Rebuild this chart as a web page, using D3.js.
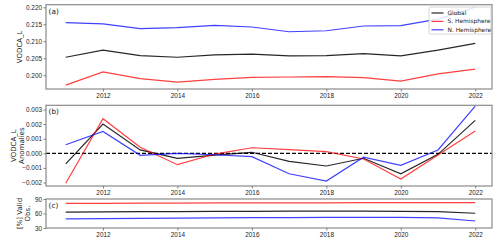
<!DOCTYPE html>
<html>
<head>
<meta charset="utf-8">
<script src="https://cdn.jsdelivr.net/npm/d3@7"></script>
<style>
  body { margin: 0; background: #fff; }
  svg { font-family: "DejaVu Sans", sans-serif; display: block; }
</style>
</head>
<body>
<div id="chart"></div>
<script>
const years = [2011, 2012, 2013, 2014, 2015, 2016, 2017, 2018, 2019, 2020, 2021, 2022];
const xTicks = [2012, 2014, 2016, 2018, 2020, 2022];
const seriesNames = ["Global", "S. Hemisphere", "N. Hemisphere"];
const seriesColors = ["#000000", "#ff0000", "#0000ff"];

// panel (a) VODCA_L
const vodGlobal = [0.2053, 0.2074, 0.2058, 0.2053, 0.2060, 0.2062, 0.2057, 0.2058, 0.2064, 0.2057, 0.2074, 0.2094];
const vodSouth = [0.1971, 0.2010, 0.1990, 0.1980, 0.1988, 0.1994, 0.1995, 0.1996, 0.1993, 0.1983, 0.2004, 0.2018];
const vodNorth = [0.2155, 0.2151, 0.2137, 0.2140, 0.2147, 0.2142, 0.2128, 0.2131, 0.2145, 0.2146, 0.2165, 0.2200];
const vodTicks = [0.200, 0.205, 0.210, 0.215, 0.220];

// panel (b) anomalies
const anomGlobal = [-0.00073, 0.0020, 0.00023, -0.00034, -0.00012, 0.00007, -0.00055, -0.00087, -0.00034, -0.0014, -0.00007, 0.00226];
const anomSouth = [-0.00205, 0.00237, 0.00041, -0.00078, -0.00005, 0.00038, 0.00025, 0.00011, -0.00039, -0.00176, -0.00012, 0.00153];
const anomNorth = [0.00059, 0.0015, -0.00014, 0.0, -0.0001, -0.00023, -0.0014, -0.0019, -0.00027, -0.00082, 0.00023, 0.00324];
const anomTicks = [-0.002, -0.001, 0.000, 0.001, 0.002, 0.003];

// panel (c) valid observations
const validGlobal = [63, 63.5, 64, 64, 64.5, 64.5, 65, 65, 65, 64.5, 64, 60.5];
const validSouth = [81, 81, 81.5, 81.5, 82, 82, 82, 82, 82.5, 82.5, 82.5, 82.5];
const validNorth = [49, 49.5, 50, 50.5, 51, 51.5, 51.5, 52, 52, 52, 51, 44.5];
const validTicks = [30, 60, 90];

const width = 500;
const height = 241;
const left = 46, right = 492;

const svg = d3.select("#chart").append("svg")
    .attr("width", width)
    .attr("height", height);

const x = d3.scaleLinear().domain([2010.47, 2022.45]).range([left, right]);

const minus = (s) => s.replace("-", "\u2212");

const panels = [
    { label: "(a)", top: 4.7, bottom: 89, domain: [0.19597, 0.22076], ticks: vodTicks,
      fmt: d3.format(".3f"), series: [vodGlobal, vodSouth, vodNorth],
      ylabel: ["VODCA_L"], labelX: [20], legend: true },
    { label: "(b)", top: 105.3, bottom: 186, domain: [-0.00224, 0.00329], ticks: anomTicks,
      fmt: (d) => minus(d3.format(".3f")(d)), series: [anomGlobal, anomSouth, anomNorth],
      ylabel: ["VODCA_L", "Anomalies"], labelX: [13.5, 21.5], zero: true },
    { label: "(c)", top: 199, bottom: 228, domain: [30, 90], ticks: validTicks,
      fmt: d3.format("d"), series: [validGlobal, validSouth, validNorth],
      ylabel: ["[%] Valid", "Obs."], labelX: [20, 28] },
];

panels.forEach((p) => {
    const y = d3.scaleLinear().domain(p.domain).range([p.bottom, p.top]);
    const g = svg.append("g");

    // zero reference line
    if (p.zero) {
        g.append("line")
            .attr("x1", left).attr("x2", right)
            .attr("y1", y(0)).attr("y2", y(0))
            .attr("stroke", "#000")
            .attr("stroke-width", 1.3)
            .attr("stroke-dasharray", "4,2");
    }

    // lines
    const line = d3.line().x((d, i) => x(years[i])).y((d) => y(d));
    p.series.forEach((vals, i) => {
        g.append("path")
            .datum(vals)
            .attr("d", line)
            .attr("fill", "none")
            .attr("stroke", seriesColors[i])
            .attr("stroke-opacity", i === 0 ? 0.85 : 0.75)
            .attr("stroke-width", 1.2);
    });

    // frame
    g.append("rect")
        .attr("x", left).attr("y", p.top)
        .attr("width", right - left).attr("height", p.bottom - p.top)
        .attr("fill", "none")
        .attr("stroke", "#8a8a8a")
        .attr("stroke-width", 1.2);

    // axes
    const xAxis = g.append("g")
        .attr("transform", `translate(0,${p.bottom})`)
        .call(d3.axisBottom(x).tickValues(xTicks).tickFormat(d3.format("d")).tickSize(2.5).tickPadding(1.5));
    const yAxis = g.append("g")
        .attr("transform", `translate(${left},0)`)
        .call(d3.axisLeft(y).tickValues(p.ticks).tickFormat(p.fmt).tickSize(2.5).tickPadding(1.5));

    [xAxis, yAxis].forEach((ax) => {
        ax.select(".domain").remove();
        ax.selectAll(".tick line").attr("stroke", "#666").attr("stroke-width", 0.8);
        ax.selectAll("text").attr("fill", "#222").style("font-size", "6.4px");
    });

    // panel label
    g.append("text")
        .attr("x", left + 2.5)
        .attr("y", p.top + 9)
        .attr("fill", "#222")
        .style("font-size", "7.4px")
        .text(p.label);

    // y label
    const cy = (p.top + p.bottom) / 2;
    p.ylabel.forEach((t, i) => {
        g.append("text")
            .attr("transform", `translate(${p.labelX[i]},${cy}) rotate(-90)`)
            .attr("text-anchor", "middle")
            .attr("dy", "0.35em")
            .attr("fill", "#222")
            .style("font-size", "7px")
            .text(t);
    });

    // legend
    if (p.legend) {
        const lg = svg.append("g").attr("transform", "translate(429,7)");
        lg.append("rect")
            .attr("width", 62).attr("height", 27)
            .attr("rx", 1.5)
            .attr("fill", "#fff").attr("fill-opacity", 0.85)
            .attr("stroke", "#cccccc").attr("stroke-width", 0.8);
        seriesNames.forEach((name, i) => {
            const ry = 6 + i * 8.4;
            lg.append("line")
                .attr("x1", 2.5).attr("x2", 14.5)
                .attr("y1", ry).attr("y2", ry)
                .attr("stroke", seriesColors[i])
                .attr("stroke-opacity", i === 0 ? 0.85 : 0.75)
                .attr("stroke-width", 1.2);
            lg.append("text")
                .attr("x", 18.5).attr("y", ry)
                .attr("dy", "0.35em")
                .attr("fill", "#222")
                .style("font-size", "5.9px")
                .text(name);
        });
    }
});
</script>
</body>
</html>
